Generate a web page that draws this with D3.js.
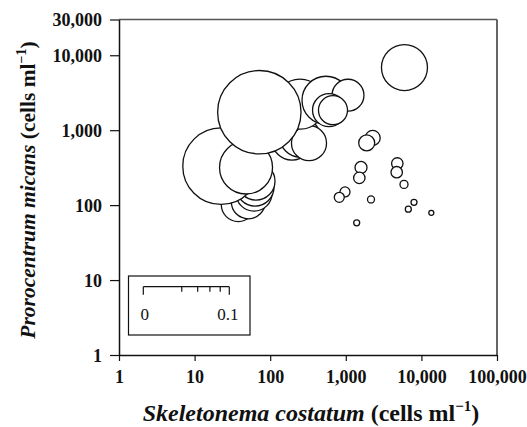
<!DOCTYPE html>
<html>
<head>
<meta charset="utf-8">
<script src="https://cdn.jsdelivr.net/npm/d3@7"></script>
<style>
  html, body { margin: 0; padding: 0; background: #fff; }
  svg { display: block; }
  text { font-family: "Liberation Serif", "Times New Roman", serif; }
</style>
</head>
<body>
<svg id="chart" width="527" height="427"></svg>
<script>
// ---- data ----
const skeletonema = [37.8, 51.3, 61.1, 63, 64.9, 22.4, 47.9, 194, 248, 326, 248, 547, 71.8, 1069, 600, 677, 5970,
  2269, 1890, 1589, 1509, 4800, 4713, 5888, 2154, 7980, 6712, 13520, 1393, 976, 820];
const prorocentrum = [101.6, 110.7, 144.5, 174, 209, 331, 318, 736, 807, 671, 2222, 2512, 1738, 2929, 1848, 1848, 6855,
  789, 677, 318, 231, 360, 275, 189, 119, 109, 88.4, 78.9, 58, 150, 127];
const sizeValues = [0.0156, 0.0156, 0.0175, 0.0195, 0.0195, 0.0793, 0.038, 0.0216, 0.0216, 0.0166, 0.0338, 0.0311, 0.094, 0.0138, 0.0147, 0.0114, 0.0286,
  0.00304, 0.00346, 0.00195, 0.00176, 0.00176, 0.00176, 0.00087, 0.00066, 0.00049, 0.00049, 0.00034, 0.00049, 0.00135, 0.00135];
const xTickValues = [1, 10, 100, 1000, 10000, 100000];
const yTickValues = [1, 10, 100, 1000, 10000, 30000];
const legendTicks = [0, 0.02, 0.04, 0.06, 0.08, 0.1];
const legendLabels = ["0", "0.1"];

const svg = d3.select("#chart");
const pLeft = 119, pRight = 497, pTop = 19.5, pBottom = 355;

const x = d3.scaleLog().domain([1, 100000]).range([pLeft, pRight]);
const y = d3.scaleLog().domain([1, 30000]).range([pBottom, pTop]);
// bubble diameter scale (sqrt), also used by the legend bar
const diam = d3.scaleSqrt().domain([0, 0.1]).range([0, 86]);

function minorTicks(lo, hi) {
  const out = [];
  for (let p = lo; p < hi; p *= 10) {
    for (let m = 2; m <= 9; m++) out.push(p * m);
  }
  return out;
}
const xMinor = minorTicks(1, 100000);
const yMinor = minorTicks(1, 10000).concat([20000]);
const fmt = d3.format(",");

// frame (top and right)
svg.append("line").attr("x1", pLeft).attr("x2", pRight).attr("y1", pTop).attr("y2", pTop)
  .attr("stroke", "#555").attr("stroke-width", 1.5);
svg.append("line").attr("x1", pRight).attr("x2", pRight).attr("y1", pTop).attr("y2", pBottom)
  .attr("stroke", "#555").attr("stroke-width", 1.8);

// bubbles
const data = skeletonema.map((s, i) => ({ s, p: prorocentrum[i], z: sizeValues[i] }));
svg.append("g").selectAll("circle").data(data).enter().append("circle")
  .attr("cx", d => x(d.s))
  .attr("cy", d => y(d.p))
  .attr("r", d => diam(d.z) / 2)
  .attr("fill", "#fff")
  .attr("stroke", "#111")
  .attr("stroke-width", 1.3);

// x axis
const gx = svg.append("g").attr("transform", `translate(0,${pBottom})`);
gx.call(d3.axisBottom(x).tickValues(xMinor).tickFormat("").tickSize(4).tickSizeOuter(0));
gx.call(d3.axisBottom(x).tickValues(xTickValues).tickFormat(fmt).tickSize(6).tickSizeOuter(0));
gx.selectAll(".domain").attr("stroke", "#111").attr("stroke-width", 1.5);
gx.selectAll(".tick line").attr("stroke", "#111").attr("stroke-width", 1.2);
gx.selectAll(".tick text").attr("font-size", 18).attr("font-weight", "bold")
  .attr("font-family", "Liberation Serif, serif").attr("fill", "#111").attr("dy", "0").attr("y", 28);

// y axis
const gy = svg.append("g").attr("transform", `translate(${pLeft},0)`);
gy.call(d3.axisLeft(y).tickValues(yMinor).tickFormat("").tickSize(5).tickSizeOuter(0));
gy.call(d3.axisLeft(y).tickValues(yTickValues).tickFormat(fmt).tickSize(9).tickSizeOuter(0));
gy.selectAll(".domain").attr("stroke", "#111").attr("stroke-width", 1.5);
gy.selectAll(".tick line").attr("stroke", "#111").attr("stroke-width", 1.2);
gy.selectAll(".tick text").attr("font-size", 18).attr("font-weight", "bold")
  .attr("font-family", "Liberation Serif, serif").attr("fill", "#111").attr("x", -17).attr("dy", "0.34em");

// axis titles
const xt = svg.append("text").attr("x", 311).attr("y", 421).attr("text-anchor", "middle")
  .attr("font-size", 24).attr("font-weight", "bold").attr("fill", "#111");
xt.append("tspan").attr("font-style", "italic").text("Skeletonema costatum");
xt.append("tspan").text(" (cells ml");
xt.append("tspan").attr("font-size", 15).attr("dy", -10).text("\u22121");
xt.append("tspan").attr("dy", 10).text(")");

const yt = svg.append("text").attr("transform", "translate(35,190) rotate(-90)").attr("text-anchor", "middle")
  .attr("font-size", 21.5).attr("font-weight", "bold").attr("fill", "#111");
yt.append("tspan").attr("font-style", "italic").text("Prorocentrum micans");
yt.append("tspan").text(" (cells ml");
yt.append("tspan").attr("font-size", 14).attr("dy", -9).text("\u22121");
yt.append("tspan").attr("dy", 9).text(")");

// size legend
const lg = svg.append("g");
lg.append("rect").attr("x", 128.5).attr("y", 276).attr("width", 121.5).attr("height", 59)
  .attr("fill", "#fff").attr("stroke", "#111").attr("stroke-width", 1.2);
const bx = 143.3, by = 286.7;
lg.append("line").attr("x1", bx + diam(0)).attr("x2", bx + diam(0.1)).attr("y1", by).attr("y2", by)
  .attr("stroke", "#111").attr("stroke-width", 1.2);
lg.selectAll("line.lt").data(legendTicks).enter().append("line").attr("class", "lt")
  .attr("x1", d => bx + diam(d)).attr("x2", d => bx + diam(d))
  .attr("y1", by).attr("y2", (d, i) => (i === 0 || i === legendTicks.length - 1) ? by + 8 : by + 5)
  .attr("stroke", "#111").attr("stroke-width", 1.2);
lg.append("text").attr("x", bx + diam(0) + 1.5).attr("y", 320).attr("text-anchor", "middle")
  .attr("font-size", 17).attr("fill", "#111").text(legendLabels[0]);
lg.append("text").attr("x", bx + diam(0.1) - 1.5).attr("y", 320).attr("text-anchor", "middle")
  .attr("font-size", 17).attr("fill", "#111").text(legendLabels[1]);
</script>
</body>
</html>
